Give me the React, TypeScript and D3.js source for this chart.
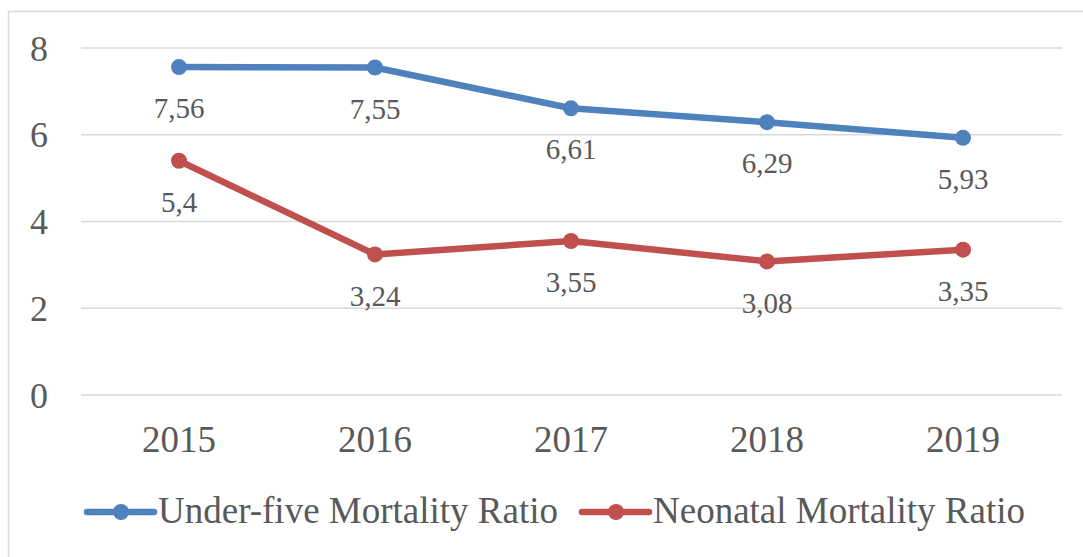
import React, { useEffect, useRef } from "react";
import * as d3 from "d3";

const years = ["2015", "2016", "2017", "2018", "2019"];
const underFive = [7.56, 7.55, 6.61, 6.29, 5.93];
const neonatal = [5.4, 3.24, 3.55, 3.08, 3.35];
const yTicks = [0, 2, 4, 6, 8];
const seriesNames = ["Under-five Mortality Ratio", "Neonatal Mortality Ratio"];

const colors = ["#4F81BD", "#C0504D"];
const font = "'Liberation Serif', serif";
const textColor = "#595959";

function App() {
  const svgRef = useRef<SVGSVGElement>(null);

  useEffect(() => {
    const width = 1083;
    const height = 557;
    const svg = d3.select(svgRef.current).attr("width", width).attr("height", height);
    svg.selectAll("*").remove();

    // chart border
    svg
      .append("rect")
      .attr("x", 8.5)
      .attr("y", 11.5)
      .attr("width", 1100)
      .attr("height", 600)
      .attr("fill", "white")
      .attr("stroke", "#D9D9D9")
      .attr("stroke-width", 1.5);

    const x = d3.scalePoint().domain(years).range([179, 963]);
    const y = d3.scaleLinear().domain([0, 8]).range([395, 48]);

    // gridlines
    svg
      .append("g")
      .selectAll("line")
      .data(yTicks)
      .enter()
      .append("line")
      .attr("x1", 81)
      .attr("x2", 1062)
      .attr("y1", (d) => y(d))
      .attr("y2", (d) => y(d))
      .attr("stroke", "#D9D9D9")
      .attr("stroke-width", 1.5);

    // y labels
    svg
      .append("g")
      .selectAll("text")
      .data(yTicks)
      .enter()
      .append("text")
      .attr("x", 48)
      .attr("y", (d) => y(d))
      .attr("dy", "0.35em")
      .attr("text-anchor", "end")
      .attr("font-family", font)
      .attr("font-size", 36)
      .attr("fill", textColor)
      .text((d) => d);

    // x labels
    svg
      .append("g")
      .selectAll("text")
      .data(years)
      .enter()
      .append("text")
      .attr("x", (d) => x(d)!)
      .attr("y", 452)
      .attr("text-anchor", "middle")
      .attr("font-family", font)
      .attr("font-size", 37)
      .attr("fill", textColor)
      .text((d) => d);

    const line = d3
      .line<number>()
      .x((_, i) => x(years[i])!)
      .y((d) => y(d));

    [underFive, neonatal].forEach((vals, k) => {
      const g = svg.append("g");
      g.append("path")
        .datum(vals)
        .attr("d", line)
        .attr("fill", "none")
        .attr("stroke", colors[k])
        .attr("stroke-width", 6.5)
        .attr("stroke-linejoin", "round")
        .attr("stroke-linecap", "round");
      g.selectAll("circle")
        .data(vals)
        .enter()
        .append("circle")
        .attr("cx", (_, i) => x(years[i])!)
        .attr("cy", (d) => y(d))
        .attr("r", 8)
        .attr("fill", colors[k]);
      g.selectAll("text")
        .data(vals)
        .enter()
        .append("text")
        .attr("x", (_, i) => x(years[i])!)
        .attr("y", (d) => y(d) + 41)
        .attr("dy", "0.35em")
        .attr("text-anchor", "middle")
        .attr("font-family", font)
        .attr("font-size", 29)
        .attr("fill", textColor)
        .text((d) => String(d).replace(".", ","));
    });

    // legend
    const legendX = [87, 582];
    seriesNames.forEach((name, k) => {
      const g = svg.append("g").attr("transform", `translate(${legendX[k]},512)`);
      g.append("line")
        .attr("x1", 0)
        .attr("x2", 67)
        .attr("stroke", colors[k])
        .attr("stroke-width", 6.5)
        .attr("stroke-linecap", "round");
      g.append("circle").attr("cx", 34).attr("r", 8).attr("fill", colors[k]);
      g.append("text")
        .attr("x", 71)
        .attr("y", 11)
        .attr("font-family", font)
        .attr("font-size", 37)
        .attr("fill", textColor)
        .text(name);
    });
  }, []);

  return (
    <svg
      ref={svgRef}
      style={{ position: "absolute", left: 0, top: 0, display: "block" }}
    ></svg>
  );
}

export default App;
